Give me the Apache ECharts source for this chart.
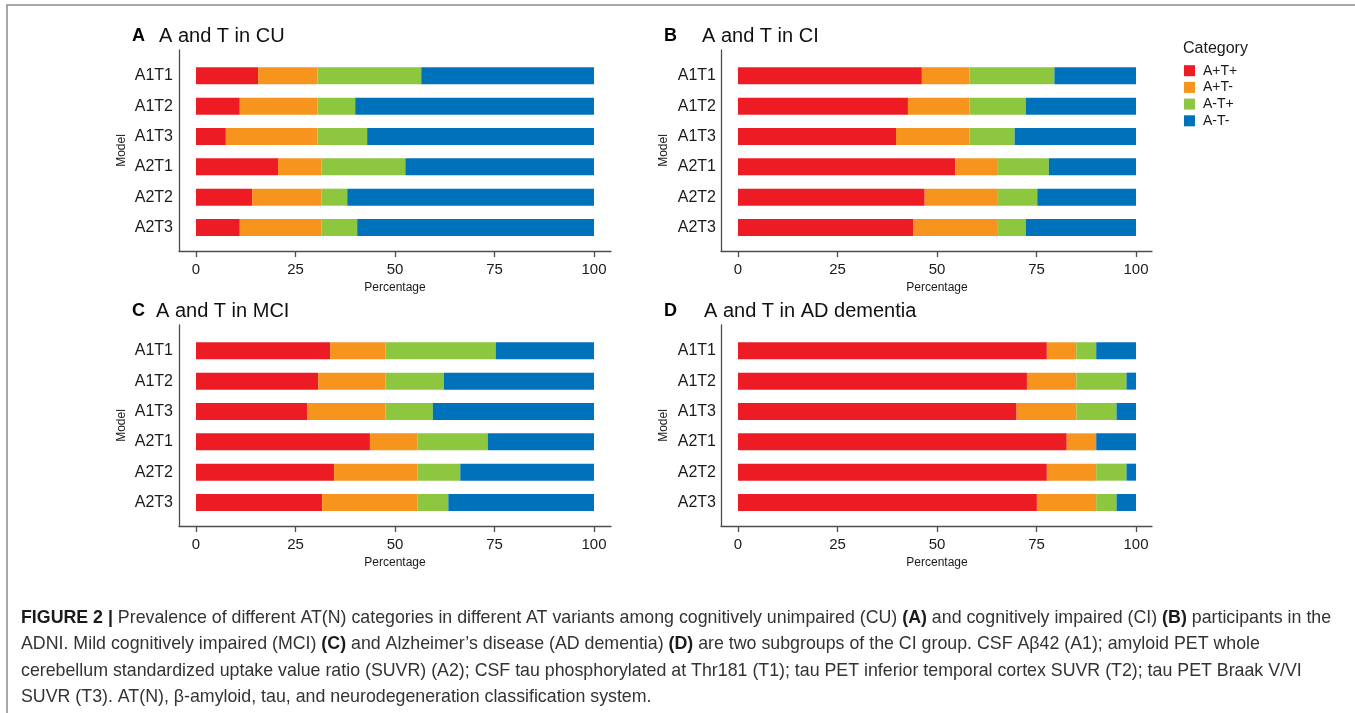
<!DOCTYPE html>
<html>
<head>
<meta charset="utf-8">
<script src="https://cdn.jsdelivr.net/npm/echarts@6/dist/echarts.min.js"></script>
<style>
html,body{margin:0;padding:0;background:#fff;}
#c{width:1355px;height:713px;}
</style>
</head>
<body>
<div id="c"></div>
<script>
// ---------- data ----------
const models = ['A1T1', 'A1T2', 'A1T3', 'A2T1', 'A2T2', 'A2T3'];
const categoryNames = ['A+T+', 'A+T-', 'A-T+', 'A-T-'];
const xTicks = [0, 25, 50, 75, 100];

// Panel A: CU
const cuApTp = [15.6, 11.0, 7.5, 20.6, 14.1, 11.0];
const cuApTm = [14.9, 19.5, 23.0, 10.9, 17.4, 20.5];
const cuAmTp = [26.1, 9.5, 12.5, 21.1, 6.5, 9.0];
const cuAmTm = [43.4, 60.0, 57.0, 47.4, 62.0, 59.5];
// Panel B: CI
const ciApTp = [46.2, 42.7, 39.7, 54.6, 46.9, 44.1];
const ciApTm = [12.0, 15.5, 18.5, 10.7, 18.4, 21.2];
const ciAmTp = [21.3, 14.1, 11.3, 12.8, 9.9, 7.0];
const ciAmTm = [20.5, 27.7, 30.5, 21.9, 24.8, 27.7];
// Panel C: MCI
const mciApTp = [33.7, 30.7, 27.9, 43.7, 34.7, 31.7];
const mciApTm = [13.9, 16.9, 19.7, 11.9, 20.9, 23.9];
const mciAmTp = [27.7, 14.7, 11.9, 17.7, 10.8, 7.8];
const mciAmTm = [24.7, 37.7, 40.5, 26.7, 33.6, 36.6];
// Panel D: AD dementia
const adApTp = [77.6, 72.6, 70.0, 82.6, 77.6, 75.1];
const adApTm = [7.4, 12.4, 15.0, 7.4, 12.4, 14.9];
const adAmTp = [5.0, 12.6, 10.1, 0.0, 7.6, 5.1];
const adAmTm = [10.0, 2.4, 4.9, 10.0, 2.4, 4.9];

const panelLetters = ['A', 'B', 'C', 'D'];
const panelTitles = ['A and T in CU', 'A and T in CI', 'A and T in MCI', 'A and T in AD dementia'];
const panelData = [
  [cuApTp, cuApTm, cuAmTp, cuAmTm],
  [ciApTp, ciApTm, ciAmTp, ciAmTm],
  [mciApTp, mciApTm, mciAmTp, mciAmTm],
  [adApTp, adApTm, adAmTp, adAmTm]
];

const captionLines = [
  '{b|FIGURE 2 |} Prevalence of different AT(N) categories in different AT variants among cognitively unimpaired (CU) {b|(A)} and cognitively impaired (CI) {b|(B)} participants in the',
  'ADNI. Mild cognitively impaired (MCI) {b|(C)} and Alzheimer\u2019s disease (AD dementia) {b|(D)} are two subgroups of the CI group. CSF A\u03b242 (A1); amyloid PET whole',
  'cerebellum standardized uptake value ratio (SUVR) (A2); CSF tau phosphorylated at Thr181 (T1); tau PET inferior temporal cortex SUVR (T2); tau PET Braak V/VI',
  'SUVR (T3). AT(N), \u03b2-amyloid, tau, and neurodegeneration classification system.'
];

// ---------- styles ----------
const colors = ['#ED1C24', '#F7941D', '#8DC63F', '#0072BC'];
const FONT = "'Liberation Sans', Arial, sans-serif";
const axisColor = '#4d4d4d';
const textColor = '#1a1a1a';

// panel layout: frame (axis lines) and data area
const layouts = [
  {frameL: 179, frameR: 611, frameT: 50, frameB: 251, dataL: 196, dataR: 594, letterX: 132, titleX: 159, titleY: 36, labelMargin: 23},
  {frameL: 721, frameR: 1152, frameT: 50, frameB: 251, dataL: 738, dataR: 1136, letterX: 664, titleX: 702, titleY: 36, labelMargin: 22},
  {frameL: 179, frameR: 611, frameT: 325, frameB: 526, dataL: 196, dataR: 594, letterX: 132, titleX: 156, titleY: 311, labelMargin: 23},
  {frameL: 721, frameR: 1152, frameT: 325, frameB: 526, dataL: 738, dataR: 1136, letterX: 664, titleX: 704, titleY: 311, labelMargin: 22}
];
const bandH = 30.34;
const firstCenterOffset = 25.8; // from frame top to first bar center

const grids = [], xAxes = [], yAxes = [], series = [], titles = [];

layouts.forEach((L, p) => {
  grids.push({left: L.frameL, top: L.frameT, width: L.frameR - L.frameL, height: L.frameB - L.frameT, containLabel: false});
  const dataTop = L.frameT + firstCenterOffset - bandH / 2;
  const dataH = bandH * models.length;
  grids.push({left: L.dataL, top: dataTop, width: L.dataR - L.dataL, height: dataH, containLabel: false});
  const fi = p * 2, di = p * 2 + 1;
  const xOffset = L.frameB - (dataTop + dataH);

  xAxes.push({
    gridIndex: fi, type: 'value', min: 0, max: 1,
    axisLine: {show: true, lineStyle: {color: axisColor, width: 1.3}},
    axisTick: {show: false}, axisLabel: {show: false}, splitLine: {show: false}
  });
  yAxes.push({
    gridIndex: fi, type: 'value', min: 0, max: 1,
    axisLine: {show: true, lineStyle: {color: axisColor, width: 1.3}},
    axisTick: {show: false}, axisLabel: {show: false}, splitLine: {show: false},
    name: 'Model', nameLocation: 'middle', nameGap: 51, nameRotate: 90,
    nameTextStyle: {fontFamily: FONT, fontSize: 12, color: textColor}
  });
  xAxes.push({
    gridIndex: di, type: 'value', min: xTicks[0], max: xTicks[xTicks.length - 1], interval: xTicks[1] - xTicks[0],
    offset: xOffset,
    axisLine: {show: false},
    axisTick: {show: true, length: 6, lineStyle: {color: axisColor, width: 1.3}},
    axisLabel: {show: true, margin: 11, fontFamily: FONT, fontSize: 15, color: textColor},
    splitLine: {show: false},
    name: 'Percentage', nameLocation: 'middle', nameGap: 31,
    nameTextStyle: {fontFamily: FONT, fontSize: 12, color: textColor}
  });
  yAxes.push({
    gridIndex: di, type: 'category', data: models, inverse: true,
    axisLine: {show: false}, axisTick: {show: false},
    axisLabel: {margin: L.labelMargin, fontFamily: FONT, fontSize: 16, color: textColor}
  });

  panelData[p].forEach((vals, k) => {
    series.push({
      type: 'bar', name: categoryNames[k], stack: 'p' + p,
      xAxisIndex: di, yAxisIndex: di,
      data: vals, barWidth: 17,
      itemStyle: {color: colors[k]},
      emphasis: {disabled: true},
      silent: true
    });
  });

  titles.push({
    text: panelLetters[p], left: L.letterX, top: L.titleY - 9,
    textStyle: {fontFamily: FONT, fontSize: 18, fontWeight: 'bold', color: '#000', lineHeight: 18},
    padding: 0
  });
  titles.push({
    text: panelTitles[p], left: L.titleX, top: L.titleY - 10,
    textStyle: {fontFamily: FONT, fontSize: 20, fontWeight: 'normal', color: '#111', lineHeight: 20},
    padding: 0
  });
});

titles.push({
  text: 'Category', left: 1183, top: 41,
  textStyle: {fontFamily: FONT, fontSize: 16, fontWeight: 'normal', color: textColor, lineHeight: 16},
  padding: 0
});
titles.push({
  text: captionLines.join('\n'), left: 21, top: 605,
  padding: 0,
  textStyle: {
    fontFamily: FONT, fontSize: 17.8, fontWeight: 'normal', color: '#333', lineHeight: 26.3,
    rich: {b: {fontFamily: FONT, fontSize: 17.8, fontWeight: 'bold', color: '#1a1a1a', lineHeight: 26.3}}
  }
});

const option = {
  animation: false,
  backgroundColor: '#fff',
  title: titles,
  grid: grids,
  xAxis: xAxes,
  yAxis: yAxes,
  series: series,
  legend: {
    data: categoryNames, orient: 'vertical', left: 1184, top: 63.7, padding: 0,
    icon: 'rect', itemWidth: 11, itemHeight: 11, itemGap: 2.7,
    selectedMode: false,
    textStyle: {fontFamily: FONT, fontSize: 14, color: textColor, lineHeight: 14, padding: [0, 0, 0, 3]}
  },
  graphic: [{
    type: 'rect', silent: true,
    shape: {x: 7, y: 5, width: 1400, height: 800},
    style: {fill: 'none', stroke: '#8a8a8a', lineWidth: 1.5}
  }]
};

const chart = echarts.init(document.getElementById('c'), null, {renderer: 'canvas'});
chart.setOption(option);
</script>
</body>
</html>
